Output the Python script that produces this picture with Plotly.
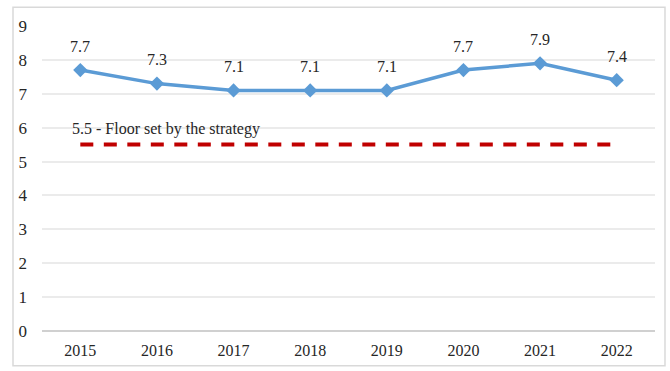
import plotly.graph_objects as go

years = ["2015", "2016", "2017", "2018", "2019", "2020", "2021", "2022"]
values = [7.7, 7.3, 7.1, 7.1, 7.1, 7.7, 7.9, 7.4]
floor_value = 5.5
floor_label = "5.5 - Floor set by the strategy"
y_ticks = [0, 1, 2, 3, 4, 5, 6, 7, 8, 9]

FONT = "Liberation Serif, Times New Roman, serif"
TEXT_COLOR = "#262626"

fig = go.Figure()

# Floor line (dashed red)
fig.add_trace(go.Scatter(
    x=years, y=[floor_value] * len(years),
    mode="lines",
    line=dict(color="#C00000", width=4, dash="13px,10.5px"),
    hoverinfo="skip", showlegend=False,
))

# Main series
fig.add_trace(go.Scatter(
    x=years, y=values,
    mode="lines+markers",
    line=dict(color="#5B9BD5", width=3.5),
    marker=dict(symbol="diamond", size=11, color="#5B9BD5"),
    showlegend=False,
))

# Value labels above each point (category index positions)
annotations = []
for i, v in enumerate(values):
    annotations.append(dict(
        x=i, y=v, xref="x", yref="y", text=f"{v:.1f}",
        showarrow=False, yshift=24,
        font=dict(family=FONT, size=16, color=TEXT_COLOR),
    ))
annotations.append(dict(
    x=0.045, y=5.96, xref="paper", yref="y", text=floor_label,
    xanchor="left", yanchor="middle", showarrow=False,
    font=dict(family=FONT, size=16, color=TEXT_COLOR),
))

fig.update_layout(
    width=670, height=371,
    margin=dict(l=42, r=15, t=26, b=37),
    paper_bgcolor="white", plot_bgcolor="white",
    font=dict(family=FONT, size=15, color=TEXT_COLOR),
    annotations=annotations,
    shapes=[dict(
        type="rect", xref="paper", yref="paper",
        x0=-0.0473, x1=1.0163, y0=-0.1136, y1=1.0617,
        line=dict(color="#D9D9D9", width=1.5), fillcolor="rgba(0,0,0,0)",
        layer="below",
    )],
)

fig.update_xaxes(
    type="category", range=[-0.5, len(years) - 0.5],
    showgrid=False, showline=False, zeroline=False,
    ticks="", ticklabelstandoff=8,
    tickfont=dict(family=FONT, size=16, color=TEXT_COLOR),
)
fig.update_yaxes(
    range=[0, 9], tickvals=y_ticks,
    showgrid=True, gridcolor="#EBEBEB", gridwidth=1.5,
    zeroline=True, zerolinecolor="#D0D0D0", zerolinewidth=2,
    showline=False, ticks="", ticklabelstandoff=14,
    tickfont=dict(family=FONT, size=17, color=TEXT_COLOR),
)

fig.write_html("out.html")
